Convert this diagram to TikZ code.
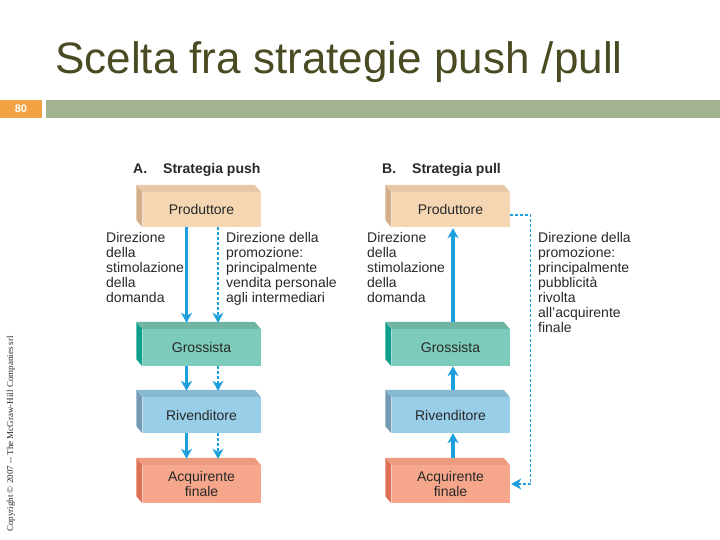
\documentclass[tikz,border=0pt]{standalone}
\usepackage{fontspec}
\setmainfont{Liberation Sans}
\newfontfamily\copyfont{Liberation Serif}
\usetikzlibrary{arrows.meta,calc}

\definecolor{titleolive}{RGB}{74,74,35}
\definecolor{barorange}{RGB}{243,163,67}
\definecolor{bargreen}{RGB}{163,179,143}
\definecolor{flowblue}{RGB}{30,160,222}
\definecolor{txtgray}{RGB}{40,40,40}
\definecolor{prodF}{RGB}{245,214,178}
\definecolor{prodT}{RGB}{230,200,166}
\definecolor{prodS}{RGB}{212,176,136}
\definecolor{grosF}{RGB}{125,203,186}
\definecolor{grosT}{RGB}{112,180,166}
\definecolor{grosS}{RGB}{10,160,140}
\definecolor{rivF}{RGB}{152,206,232}
\definecolor{rivT}{RGB}{135,185,210}
\definecolor{rivS}{RGB}{115,155,180}
\definecolor{acqF}{RGB}{246,166,138}
\definecolor{acqT}{RGB}{236,155,128}
\definecolor{acqS}{RGB}{222,112,86}

\begin{document}
\begin{tikzpicture}[x=1pt,y=-1pt,
  box/.style={inner sep=0pt,minimum width=118pt,text=txtgray,align=center,
    font=\fontsize{14}{15}\selectfont},
  note/.style={inner sep=0pt,anchor=north west,align=left,text=txtgray,
    font=\fontsize{14}{15}\selectfont},
  head/.style={inner sep=0pt,anchor=base west,text=txtgray,
    font=\fontsize{14}{15}\selectfont\bfseries},
  flow/.style={flowblue,line width=3.4pt,-{Stealth[length=10pt,width=11pt,inset=3pt]}},
  dflow/.style={flowblue,line width=1.2pt,dash pattern=on 3pt off 2pt,
    -{Stealth[length=10pt,width=11pt,inset=3pt]}}]
\useasboundingbox (0,0) rectangle (720,540);

% title and bar
\node[text=titleolive,anchor=base,inner sep=0pt,font=\fontsize{44}{48}\selectfont] (title) at (339,74) {Scelta fra strategie push /pull};
\fill[barorange] (0,100) rectangle (42,118);
\fill[bargreen] (46,100) rectangle (720,118);
\node[text=white,font=\fontsize{11}{12}\selectfont\bfseries] (pagenum) at (21,109) {80};
\node[rotate=90,anchor=base west,inner sep=0pt,text=txtgray,font=\fontsize{9}{10}\copyfont] (copy) at (13,532)
  {Copyright \textcopyright{} 2007 -- The McGraw-Hill Companies srl};

% A. strategia push
\node[head] (headA) at (133,174) {A.\hspace{16pt}Strategia push};
\node[box,fill=prodF,minimum height=35pt] (pA) at (201.5,209.5) {Produttore};
\node[box,fill=grosF,minimum height=37pt] (gA) at (201.5,347.5) {Grossista};
\node[box,fill=rivF,minimum height=36pt] (rA) at (201.5,415) {Rivenditore};
\node[box,fill=acqF,minimum height=38pt] (aA) at (201.5,484) {Acquirente\\finale};

% B. strategia pull
\node[head] (headB) at (382,174) {B.\hspace{16pt}Strategia pull};
\node[box,fill=prodF,minimum height=35pt] (pB) at (450.5,209.5) {Produttore};
\node[box,fill=grosF,minimum height=37pt] (gB) at (450.5,347.5) {Grossista};
\node[box,fill=rivF,minimum height=36pt] (rB) at (450.5,415) {Rivenditore};
\node[box,fill=acqF,minimum height=38pt] (aB) at (450.5,484) {Acquirente\\finale};

% side and top faces
\foreach \n/\s/\t in {pA/prodS/prodT,gA/grosS/grosT,rA/rivS/rivT,aA/acqS/acqT,
                      pB/prodS/prodT,gB/grosS/grosT,rB/rivS/rivT,aB/acqS/acqT} {
  \fill[\s] (\n.north west) -- ++(-6,-7) -- ($(\n.south west)+(-6,-7)$) -- (\n.south west) -- cycle;
  \fill[\t] (\n.north west) -- ++(-6,-7) -- ($(\n.north east)+(-6,-7)$) -- (\n.north east) -- cycle;
}

% push flows
\foreach \u/\v in {pA/gA,gA/rA,rA/aA} {
  \draw[flow] ([xshift=-15pt]\u.south) -- ([xshift=-15pt,yshift=6pt]\v.north);
  \draw[dflow] ([xshift=16.5pt]\u.south) -- ([xshift=16.5pt,yshift=6pt]\v.north);
}
% pull flows
\foreach \u/\v in {aB/rB,rB/gB} {
  \draw[flow] ([xshift=2.5pt,yshift=7pt]\u.north) -- ([xshift=2.5pt]\v.south);
}
\draw[flow] ([xshift=2.5pt,yshift=7pt]gB.north) -- ([xshift=2.5pt,yshift=-1pt]pB.south);
\draw[dflow] ([yshift=-5.5pt]pB.east) -- ++(21,0) |- ([xshift=1.5pt]aB.east);

% descriptions
\node[note] (dA) at (106,232) {Direzione\\della\\stimolazione\\della\\domanda};
\node[note] (pmA) at (226,232) {Direzione della\\promozione:\\principalmente\\vendita personale\\agli intermediari};
\node[note] (dB) at (367,232) {Direzione\\della\\stimolazione\\della\\domanda};
\node[note] (pmB) at (538,232) {Direzione della\\promozione:\\principalmente\\pubblicità\\rivolta\\all'acquirente\\finale};
\end{tikzpicture}
\end{document}
